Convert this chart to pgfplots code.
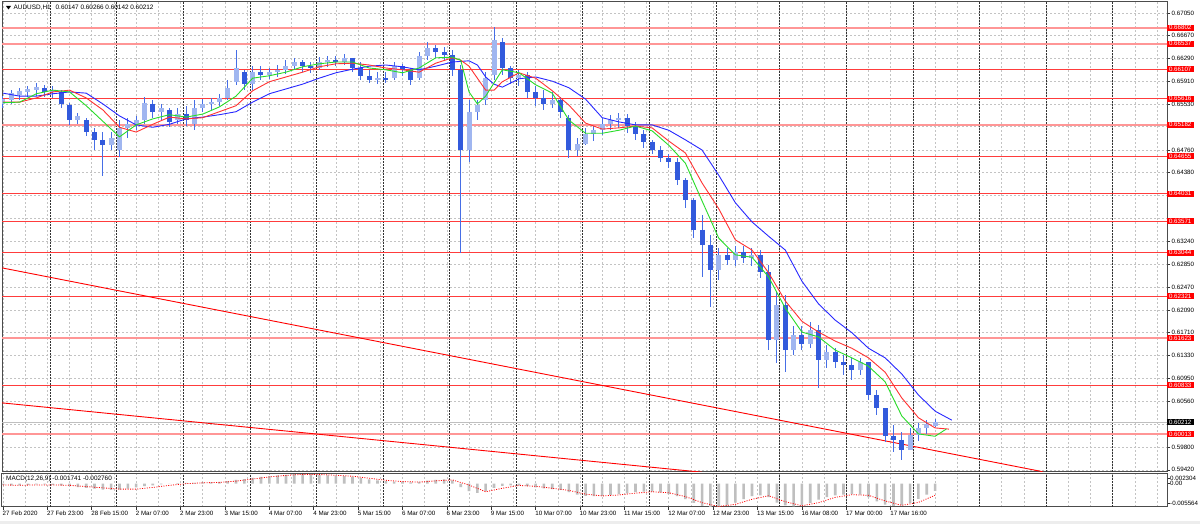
\documentclass[border=0pt]{standalone}
\usepackage{pgfplots}
\pgfplotsset{compat=1.18}
\usepackage{pgfplotstable}
\usepackage{fontspec}
\setmainfont{Liberation Sans}
\definecolor{wick}{RGB}{70,110,230}
\definecolor{bear}{RGB}{50,90,220}
\definecolor{bull}{RGB}{160,182,240}
\definecolor{magreen}{RGB}{40,220,40}
\definecolor{mared}{RGB}{255,50,50}
\definecolor{mablue}{RGB}{40,40,255}
\definecolor{hred}{RGB}{255,60,60}
\definecolor{hpink}{RGB}{255,150,150}
\definecolor{gridgray}{RGB}{195,195,195}
\newcommand{\rl}[1]{{\setlength{\fboxsep}{0.8pt}\colorbox{red}{\hspace{1.5pt}\textcolor{white}{#1}\hspace{1.5pt}}}}
\newcommand{\bl}[1]{{\setlength{\fboxsep}{0.8pt}\colorbox{black}{\hspace{1.5pt}\textcolor{white}{#1}\hspace{1.5pt}}}}

\pgfplotstableread{
x o h l c
0 0.6553 0.6566 0.6546 0.6561
3 0.6560 0.6576 0.6553 0.6571
6 0.6568 0.6580 0.6560 0.6575
9 0.6573 0.6583 0.6565 0.6578
12 0.6576 0.6588 0.6566 0.6581
15 0.6580 0.6585 0.6565 0.6573
18 0.6573 0.6583 0.6563 0.6576
21 0.6573 0.6576 0.6546 0.6553
24 0.6551 0.6555 0.6518 0.6526
27 0.6526 0.6538 0.6519 0.6533
30 0.6526 0.6530 0.6499 0.6506
33 0.6506 0.6513 0.6476 0.6493
36 0.6493 0.6506 0.6433 0.6485
39 0.6485 0.6506 0.6476 0.6496
42 0.6476 0.6526 0.6465 0.6513
45 0.6513 0.6530 0.6496 0.6519
48 0.6519 0.6533 0.6509 0.6526
51 0.6526 0.6565 0.6519 0.6555
54 0.6553 0.6560 0.6530 0.6540
57 0.6540 0.6553 0.6526 0.6546
60 0.6543 0.6546 0.6514 0.6523
63 0.6526 0.6546 0.6519 0.6536
66 0.6536 0.6550 0.6516 0.6526
69 0.6519 0.6560 0.6509 0.6546
72 0.6546 0.6561 0.6540 0.6553
75 0.6553 0.6563 0.6543 0.6556
78 0.6556 0.6570 0.6550 0.6563
81 0.6563 0.6593 0.6560 0.6580
84 0.6590 0.6643 0.6585 0.6613
87 0.6606 0.6610 0.6576 0.6586
90 0.6586 0.6616 0.6576 0.6606
93 0.6606 0.6616 0.6593 0.6601
96 0.6601 0.6613 0.6595 0.6606
99 0.6606 0.6618 0.6598 0.6610
102 0.6610 0.6626 0.6603 0.6616
105 0.6616 0.6630 0.6610 0.6623
108 0.6623 0.6626 0.6606 0.6616
111 0.6616 0.6623 0.6605 0.6613
114 0.6613 0.6631 0.6610 0.6623
117 0.6623 0.6633 0.6615 0.6626
120 0.6626 0.6633 0.6616 0.6623
123 0.6623 0.6636 0.6618 0.6630
126 0.6630 0.6630 0.6606 0.6613
129 0.6613 0.6623 0.6593 0.6600
132 0.6600 0.6610 0.6588 0.6593
135 0.6593 0.6606 0.6586 0.6596
138 0.6596 0.6606 0.6588 0.6593
141 0.6596 0.6623 0.6593 0.6616
144 0.6616 0.6620 0.6600 0.6610
147 0.6610 0.6613 0.6585 0.6593
150 0.6596 0.6640 0.6593 0.6633
153 0.6633 0.6656 0.6626 0.6646
156 0.6646 0.6651 0.6630 0.6640
159 0.6640 0.6648 0.6626 0.6635
162 0.6635 0.6643 0.6600 0.6610
165 0.6610 0.6618 0.6304 0.6476
168 0.6476 0.6560 0.6456 0.6540
171 0.6540 0.6560 0.6526 0.6551
174 0.6560 0.6606 0.6551 0.6596
177 0.6601 0.6681 0.6593 0.6660
180 0.6656 0.6663 0.6601 0.6613
183 0.6613 0.6616 0.6586 0.6596
186 0.6596 0.6610 0.6583 0.6601
189 0.6601 0.6606 0.6563 0.6573
192 0.6573 0.6583 0.6550 0.6563
195 0.6563 0.6576 0.6543 0.6553
198 0.6553 0.6573 0.6546 0.6560
201 0.6560 0.6565 0.6530 0.6540
204 0.6530 0.6535 0.6463 0.6476
207 0.6476 0.6496 0.6466 0.6486
210 0.6486 0.6513 0.6485 0.6503
213 0.6503 0.6516 0.6491 0.6509
216 0.6509 0.6530 0.6501 0.6519
219 0.6519 0.6535 0.6509 0.6526
222 0.6526 0.6538 0.6513 0.6530
225 0.6530 0.6536 0.6504 0.6516
228 0.6516 0.6523 0.6493 0.6503
231 0.6503 0.6509 0.6480 0.6490
234 0.6490 0.6493 0.6470 0.6476
237 0.6476 0.6483 0.6456 0.6463
240 0.6463 0.6470 0.6446 0.6456
243 0.6456 0.6463 0.6418 0.6426
246 0.6426 0.6429 0.6379 0.6393
249 0.6393 0.6396 0.6329 0.6343
252 0.6343 0.6368 0.6264 0.6318
255 0.6318 0.6334 0.6214 0.6276
258 0.6276 0.6313 0.6259 0.6301
261 0.6301 0.6313 0.6284 0.6292
264 0.6292 0.6316 0.6282 0.6306
267 0.6306 0.6316 0.6287 0.6296
270 0.6296 0.6313 0.6282 0.6301
273 0.6301 0.6309 0.6262 0.6272
276 0.6272 0.6284 0.6142 0.6159
279 0.6159 0.6239 0.6120 0.6217
282 0.6217 0.6234 0.6105 0.6142
285 0.6142 0.6182 0.6134 0.6167
288 0.6167 0.6182 0.6142 0.6152
291 0.6152 0.6189 0.6145 0.6176
294 0.6176 0.6184 0.6079 0.6125
297 0.6125 0.6150 0.6112 0.6139
300 0.6139 0.6145 0.6112 0.6122
303 0.6122 0.6134 0.6100 0.6117
306 0.6117 0.6129 0.6092 0.6109
309 0.6109 0.6129 0.6100 0.6122
312 0.6122 0.6122 0.6059 0.6067
315 0.6067 0.6075 0.6034 0.6045
318 0.6045 0.6045 0.5988 0.5998
321 0.5998 0.6017 0.5972 0.5992
324 0.5992 0.6005 0.5958 0.5975
327 0.5975 0.6012 0.5975 0.6000
330 0.6000 0.6020 0.5990 0.6012
333 0.6012 0.6025 0.6002 0.6018
336 0.60147 0.60266 0.60142 0.60212
}\candles

\pgfplotstableread{
x p
0 0.6555
6 0.6556
12 0.6570
18 0.6576
24 0.6573
30 0.6550
36 0.6524
42 0.6498
48 0.6518
54 0.6528
60 0.6535
66 0.6531
72 0.6536
78 0.6548
84 0.6566
90 0.6596
96 0.6600
102 0.6606
108 0.6615
114 0.6620
120 0.6623
126 0.6623
132 0.6613
138 0.6610
144 0.6605
150 0.6613
156 0.6630
162 0.6631
165 0.6626
168 0.6573
171 0.6553
174 0.6566
180 0.6610
186 0.6605
192 0.6585
198 0.6571
204 0.6526
210 0.6504
216 0.6504
222 0.6509
228 0.6516
234 0.6508
240 0.6484
246 0.6454
252 0.6391
258 0.6329
264 0.6301
270 0.6297
276 0.6264
282 0.6212
288 0.6172
294 0.6164
300 0.6142
306 0.6129
312 0.6115
318 0.6089
324 0.6032
330 0.6002
336 0.5998
340 0.6010
}\magreentab

\pgfplotstableread{
x p
0 0.6556
6 0.6556
12 0.6563
18 0.6573
24 0.6576
30 0.6563
36 0.6543
42 0.6514
48 0.6506
54 0.6519
60 0.6531
66 0.6528
72 0.6530
78 0.6540
84 0.6550
90 0.6575
96 0.6590
102 0.6598
108 0.6606
114 0.6615
120 0.6620
126 0.6621
132 0.6618
138 0.6613
144 0.6610
150 0.6606
156 0.6621
162 0.6630
165 0.6626
168 0.6616
171 0.6596
174 0.6576
177 0.6576
180 0.6590
186 0.6605
192 0.6596
198 0.6575
204 0.6551
210 0.6521
216 0.6511
222 0.6513
228 0.6516
234 0.6513
240 0.6491
246 0.6471
252 0.6421
258 0.6378
264 0.6326
270 0.6309
276 0.6271
282 0.6224
288 0.6190
294 0.6172
300 0.6157
306 0.6145
312 0.6129
318 0.6105
324 0.6062
330 0.6029
336 0.6012
341 0.6010
}\maredtab

\pgfplotstableread{
x p
0 0.6571
6 0.6566
12 0.6566
18 0.6570
24 0.6573
30 0.6571
36 0.6553
42 0.6533
48 0.6518
54 0.6514
60 0.6519
66 0.6528
72 0.6531
78 0.6535
84 0.6540
90 0.6556
96 0.6570
102 0.6578
108 0.6586
114 0.6596
120 0.6605
126 0.6611
132 0.6616
138 0.6618
144 0.6615
150 0.6610
156 0.6616
162 0.6623
168 0.6625
171 0.6618
174 0.6598
177 0.6586
180 0.6581
186 0.6595
192 0.6598
198 0.6591
204 0.6580
210 0.6561
216 0.6530
222 0.6523
228 0.6518
234 0.6518
240 0.6509
246 0.6493
252 0.6476
258 0.6434
264 0.6388
270 0.6356
276 0.6332
282 0.6309
288 0.6257
294 0.6219
300 0.6192
306 0.6171
312 0.6145
318 0.6129
324 0.6102
330 0.6067
336 0.6040
342 0.6025
}\mabluetab

\pgfplotstableread{
x m
0 -0.00030
3 -0.00040
6 -0.00040
9 -0.00030
12 -0.00020
15 -0.00020
18 -0.00030
21 -0.00040
24 -0.00060
27 -0.00080
30 -0.00100
33 -0.00120
36 -0.00140
39 -0.00150
42 -0.00140
45 -0.00120
48 -0.00090
51 -0.00060
54 -0.00040
57 -0.00020
60 0.00000
63 0.00010
66 0.00020
69 0.00020
72 0.00030
75 0.00030
78 0.00040
81 0.00060
84 0.00090
87 0.00110
90 0.00140
93 0.00160
96 0.00180
99 0.00200
102 0.00210
105 0.00230
108 0.00225
111 0.00220
114 0.00210
117 0.00200
120 0.00190
123 0.00180
126 0.00160
129 0.00130
132 0.00100
135 0.00080
138 0.00060
141 0.00050
144 0.00040
147 0.00030
150 0.00040
153 0.00070
156 0.00090
159 0.00100
162 0.00080
165 -0.00080
168 -0.00180
171 -0.00220
174 -0.00180
177 -0.00100
180 -0.00050
183 -0.00040
186 -0.00040
189 -0.00060
192 -0.00090
195 -0.00110
198 -0.00130
201 -0.00150
204 -0.00200
207 -0.00260
210 -0.00290
213 -0.00300
216 -0.00290
219 -0.00270
222 -0.00250
225 -0.00230
228 -0.00200
231 -0.00190
234 -0.00190
237 -0.00210
240 -0.00250
243 -0.00300
246 -0.00370
249 -0.00460
252 -0.00530
255 -0.00556
258 -0.00550
261 -0.00510
264 -0.00450
267 -0.00370
270 -0.00300
273 -0.00280
276 -0.00320
279 -0.00450
282 -0.00520
285 -0.00540
288 -0.00520
291 -0.00460
294 -0.00380
297 -0.00320
300 -0.00280
303 -0.00260
306 -0.00250
309 -0.00260
312 -0.00320
315 -0.00420
318 -0.00500
321 -0.00530
324 -0.00520
327 -0.00460
330 -0.00360
333 -0.00260
336 -0.00174
}\macdtab

\pgfplotstableread{
x s
0 -0.00030
6 -0.00040
12 -0.00030
18 -0.00030
24 -0.00040
30 -0.00070
36 -0.00100
42 -0.00130
48 -0.00130
54 -0.00090
60 -0.00040
66 0.00000
72 0.00020
78 0.00030
84 0.00060
90 0.00110
96 0.00160
102 0.00197
108 0.00222
114 0.00218
120 0.00200
126 0.00177
132 0.00130
138 0.00080
144 0.00050
150 0.00037
156 0.00067
162 0.00090
168 -0.00033
174 -0.00193
180 -0.00110
186 -0.00043
192 -0.00063
198 -0.00110
204 -0.00160
210 -0.00250
216 -0.00293
222 -0.00270
228 -0.00227
234 -0.00193
240 -0.00217
246 -0.00307
252 -0.00453
258 -0.00545
264 -0.00493
270 -0.00373
276 -0.00287
282 -0.00430
288 -0.00527
294 -0.00453
300 -0.00327
306 -0.00263
312 -0.00277
318 -0.00413
324 -0.00517
330 -0.00447
336 -0.00276
}\signaltab

\pgfplotsset{
  mtgrid/.style={
    scaled ticks=false,
    xtick={0,16,...,320},
    minor xtick={8,24,40,56,72,88,104,120,136,152,168,184,200,216,232,248,264,280,296,312,328,336,344,352,360,368,376,384,392,400,408,416},
    xmajorgrids, xminorgrids,
    major grid style={gridgray, dash pattern=on 2pt off 2pt, line width=0.6pt},
    minor grid style={gridgray, dash pattern=on 2pt off 2pt, line width=0.6pt},
    minor tick length=0pt,
    extra x ticks={17,41,65,89,113,137,161,185,209,233,257,280,304,328,352,376,400},
    extra x tick labels={},
    extra x tick style={grid=major, major grid style={black!80, dash pattern=on 1.5pt off 1.5pt, line width=0.7pt}, major tick length=0pt},
    axis line style={draw=black!70, line width=1pt},
    tick style={black!80, line width=0.6pt},
    tick align=outside,
    tick label style={font=\fontsize{6.2}{7}\selectfont, text=black},
    xmin=-0.36, xmax=419.6,
    scale only axis, width=1165pt,
  },
  hline/.style={hred, line width=0.9pt, forget plot},
  hlinep/.style={hpink, line width=1.8pt, forget plot},
  candle/.style={draw=none, mark=none, forget plot,
    error bars/y explicit, error bars/error mark=none},
}

\begin{document}
\begin{tikzpicture}
\useasboundingbox (0,0) rectangle (1200pt,524pt);
\fill[white] (0,0) rectangle (1200pt,524pt);
\fill[black!7] (0,0) rectangle (1200pt,3pt);

% main price panel
\begin{axis}[
  mtgrid,
  at={(2pt,52pt)}, anchor=south west, height=470pt,
  ymin=0.59384, ymax=0.67232,
  xticklabels={}, major tick length=3pt,
  xtick style={draw=none},
  ytick pos=right, ymajorgrids,
  ytick={0.5942,0.5980,0.6018,0.6056,0.6095,0.6133,0.6171,0.6209,0.6247,0.6285,0.6324,0.6362,0.6400,0.6438,0.6476,0.6515,0.6553,0.6591,0.6629,0.6667,0.6705},
  yticklabels={0.59420,0.59800,,0.60560,0.60950,0.61330,0.61710,0.62090,0.62470,0.62850,0.63240,,,0.64380,0.64760,,0.65530,0.65910,0.66290,0.66670,0.67050},
  yticklabel style={anchor=west, inner sep=0pt, xshift=1.5pt},
  extra y ticks={0.66802,0.66537,0.66107,0.65616,0.65182,0.64655,0.64031,0.63571,0.63044,0.62321,0.61623,0.60833,0.60013,0.60212},
  extra y tick labels={\rl{0.66802},\rl{0.66537},\rl{0.66107},\rl{0.65616},\rl{0.65182},\rl{0.64655},\rl{0.64031},\rl{0.63571},\rl{0.63044},\rl{0.62321},\rl{0.61623},\rl{0.60833},\rl{0.60013},\bl{0.60212}},
  extra y tick style={major tick length=0pt, grid=none, yticklabel style={inner sep=0pt, xshift=-2pt}},
]
% horizontal levels
\addplot[hlinep] coordinates {(-5,0.66802) (425,0.66802)};
\addplot[hlinep] coordinates {(-5,0.66537) (425,0.66537)};
\addplot[hline] coordinates {(-5,0.66107) (425,0.66107)};
\addplot[hline] coordinates {(-5,0.65616) (425,0.65616)};
\addplot[hlinep] coordinates {(-5,0.65182) (425,0.65182)};
\addplot[hline] coordinates {(-5,0.64655) (425,0.64655)};
\addplot[hline] coordinates {(-5,0.64031) (425,0.64031)};
\addplot[hline] coordinates {(-5,0.63571) (425,0.63571)};
\addplot[hline] coordinates {(-5,0.63044) (425,0.63044)};
\addplot[hline] coordinates {(-5,0.62321) (425,0.62321)};
\addplot[hlinep] coordinates {(-5,0.61623) (425,0.61623)};
\addplot[hline] coordinates {(-5,0.60833) (425,0.60833)};
\addplot[hlinep] coordinates {(-5,0.60013) (425,0.60013)};
\addplot[gray!50, line width=0.6pt, forget plot] coordinates {(-5,0.60212) (425,0.60212)};
% trend lines
\addplot[red, line width=0.9pt, forget plot] coordinates {(-1,0.62798) (374,0.59396) (380,0.59300)};
\addplot[red, line width=0.9pt, forget plot] coordinates {(-1,0.60541) (252,0.59380)};
% candles: wicks
\addplot[candle, error bars/y dir=both,
  error bars/error bar style={draw=wick, line width=1pt}]
  table[x=x, y=c, y error plus expr=\thisrow{h}-\thisrow{c}, y error minus expr=\thisrow{c}-\thisrow{l}] {\candles};
% bodies, bullish
\addplot[candle, error bars/y dir=minus,
  x filter/.expression={\thisrow{c}<\thisrow{o} ? nan : x},
  error bars/error bar style={draw=bull, line width=5pt}]
  table[x=x, y=c, y error minus expr=\thisrow{c}-\thisrow{o}] {\candles};
% bodies, bearish
\addplot[candle, error bars/y dir=minus,
  x filter/.expression={\thisrow{c}<\thisrow{o} ? x : nan},
  error bars/error bar style={draw=bear, line width=5pt}]
  table[x=x, y=o, y error minus expr=\thisrow{o}-\thisrow{c}] {\candles};
% moving averages
\addplot[mablue, line width=0.9pt] table[x=x, y=p] {\mabluetab};
\addplot[mared, line width=0.9pt] table[x=x, y=p] {\maredtab};
\addplot[magreen, line width=0.9pt] table[x=x, y=p] {\magreentab};
\end{axis}

% MACD panel
\begin{axis}[
  mtgrid,
  at={(2pt,17pt)}, anchor=south west, height=33pt,
  ymin=-0.005564, ymax=0.002304,
  major tick length=3pt,
  xtick pos=bottom, ytick pos=right,
  xticklabels={27 Feb 2020,27 Feb 23:00,28 Feb 15:00,2 Mar 07:00,2 Mar 23:00,3 Mar 15:00,4 Mar 07:00,4 Mar 23:00,5 Mar 15:00,6 Mar 07:00,6 Mar 23:00,9 Mar 15:00,10 Mar 07:00,10 Mar 23:00,11 Mar 15:00,12 Mar 07:00,12 Mar 23:00,13 Mar 15:00,16 Mar 08:00,17 Mar 00:00,17 Mar 16:00},
  xticklabel style={anchor=north west, inner sep=0pt, xshift=-0.5pt, yshift=-1pt},
  ytick={-0.00461,0,0.00135},
  yticklabels={-0.005564,0.00,0.002304},
  yticklabel style={anchor=west, inner sep=0pt, xshift=0pt},
]
\addplot[ybar, bar width=2.6pt, fill=black!25, draw=none] table[x=x, y=m] {\macdtab};
\addplot[red, line width=0.8pt, dash pattern=on 1pt off 1.4pt] table[x=x, y=s] {\signaltab};
\end{axis}

% captions
\fill[black] (6pt,518pt) -- (11pt,518pt) -- (8.5pt,514.5pt) -- cycle;
\node[anchor=west, inner sep=0pt, font=\fontsize{6.4}{7}\selectfont] at (13.5pt,516pt) {AUDUSD,H1\hspace{5pt}0.60147 0.60266 0.60142 0.60212};
\node[anchor=west, inner sep=0pt, font=\fontsize{6.4}{7}\selectfont] at (6pt,45pt) {MACD(12,26,9) -0.001741 -0.002760};
\end{tikzpicture}
\end{document}
